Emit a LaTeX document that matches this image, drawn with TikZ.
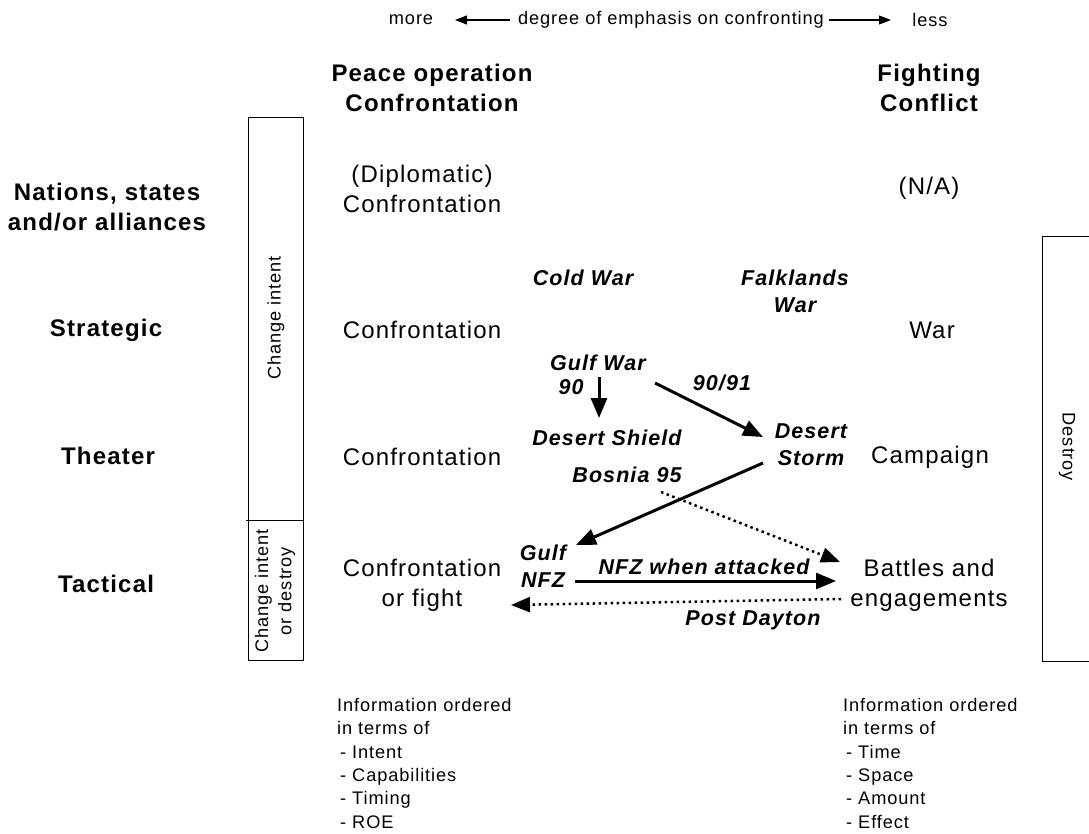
\documentclass[tikz,border=0pt]{standalone}
\usepackage{fontspec}
\setmainfont{Liberation Sans}[LetterSpace=5]
\usetikzlibrary{arrows.meta}
\begin{document}
\begin{tikzpicture}[x=1pt,y=-1pt,
  big/.style={font=\fontsize{24}{30}\selectfont, align=center, inner sep=0pt},
  bigb/.style={font=\fontsize{24}{30}\selectfont\bfseries, align=center, inner sep=0pt},
  small/.style={font=\fontsize{18.2}{23.4}\selectfont, inner sep=0pt},
  lab/.style={font=\fontsize{21.5}{27}\selectfont\bfseries\itshape, align=center, inner sep=0pt},
  box/.style={draw=black, line width=1pt},
  solidarr/.style={line width=3pt, -{Triangle[length=20pt,width=16pt]}},
  dotarr/.style={line width=2.5pt, dash pattern=on 2.5pt off 3.5pt, -{Triangle[length=19pt,width=15pt]}},
  thinarr/.style={line width=1.2pt, -{Triangle[length=12pt,width=9pt]}},
]
\useasboundingbox (0,0) rectangle (1089,834);
\fill[white] (0,0) rectangle (1089,834);

% top scale
\node[small] (more) at (411,20) {more};
\node[small] (degree) at (671,20) {degree of emphasis on confronting};
\node[small] (less) at (930,20) {less};
\draw[thinarr] ([shift={(-161,0)}]degree.center) -- ([shift={(44,0)}]more.center);
\draw[thinarr] ([shift={(158,0)}]degree.center) -- ([shift={(-39,0)}]less.center);

% column heads
\node[bigb] (peace) at (432,88) {Peace operation\\Confrontation};
\node[bigb] (fight) at (929,88) {Fighting\\Conflict};

% row labels
\node[bigb] (nations) at (107,207) {Nations, states\\and/or alliances};
\node[bigb] (strategic) at (106,330) {Strategic};
\node[bigb] (theater) at (108,456) {Theater};
\node[bigb] (tactical) at (106,584) {Tactical};

% left box
\draw[box] (248,118) rectangle (303,660);
\draw[box] (246,520) -- (303,520);
\node[small, rotate=90] (chint) at (276,318) {Change intent};
\node[small, rotate=90, align=center] (chdes) at (275,591) {Change intent\\or destroy};

% right box
\draw[box] (1095,237) -| (1042,661) -- (1095,661);
\node[small, rotate=-90] (destroy) at (1067,447) {Destroy};

% cells
\node[big] (c1) at (422,189) {(Diplomatic)\\Confrontation};
\node[big] (na) at (929,188) {(N/A)};
\node[big] (c2) at (422,330) {Confrontation};
\node[big] (war) at (932,330) {War};
\node[big] (c3) at (422,457) {Confrontation};
\node[big] (campaign) at (930,457) {Campaign};
\node[big] (c4) at (422,585) {Confrontation\\or fight};
\node[big] (battles) at (929,585) {Battles and\\engagements};

% examples
\node[lab] (coldwar) at (583,278) {Cold War};
\node[lab] (falklands) at (795,291) {Falklands\\War};
\node[lab] (gulfwar) at (598,363) {Gulf War};
\node[lab] (ninety) at (571,387) {90};
\node[lab] (ninetyone) at (722,383) {90/91};
\node[lab] (shield) at (607,438) {Desert Shield};
\node[lab] (bosnia) at (627,475) {Bosnia 95};
\node[lab] (storm) at (811,445) {Desert\\Storm};
\node[lab] (nfz) at (543,566) {Gulf\\NFZ};
\node[lab] (nfzatt) at (704,567) {NFZ when attacked};
\node[lab] (dayton) at (753,620) {Post Dayton};

% connectors
\draw[solidarr] ([shift={(1,14)}]gulfwar.center) -- ([shift={(-8,-20)}]shield.center);
\draw[solidarr] ([shift={(57,20)}]gulfwar.center) -- ([shift={(-48,-8)}]storm.center);
\draw[solidarr] ([shift={(-48,18)}]storm.center) -- ([shift={(33,-21)}]nfz.center);
\draw[dotarr] ([shift={(34,17)}]bosnia.center) -- ([shift={(-89,-23)}]battles.center);
\draw[solidarr] ([shift={(32,15)}]nfz.center) -- ([shift={(-93,-4)}]battles.center);
\draw[dotarr] ([shift={(-88,14)}]battles.center) -- ([shift={(89,20)}]c4.center);

% information lists
\node[small, align=left, anchor=north west] (infoL) at (337,698)
  {Information ordered\\in terms of\\\hspace{3pt}- Intent\\\hspace{3pt}- Capabilities\\\hspace{3pt}- Timing\\\hspace{3pt}- ROE};
\node[small, align=left, anchor=north west] (infoR) at (843,698)
  {Information ordered\\in terms of\\\hspace{3pt}- Time\\\hspace{3pt}- Space\\\hspace{3pt}- Amount\\\hspace{3pt}- Effect};
\end{tikzpicture}
\end{document}
